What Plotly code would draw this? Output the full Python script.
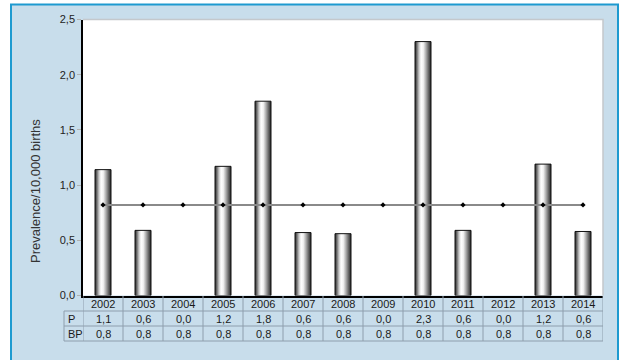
import plotly.graph_objects as go

# Yearly prevalence per 10,000 births (P) and the baseline prevalence (BP)
years = [2002, 2003, 2004, 2005, 2006, 2007, 2008, 2009, 2010, 2011, 2012, 2013, 2014]
prevalence = [1.14, 0.59, 0.0, 1.17, 1.76, 0.57, 0.56, 0.0, 2.30, 0.59, 0.0, 1.19, 0.58]
baseline = [0.82] * len(years)
row_labels = ["P", "BP"]
y_title = "Prevalence/10,000 births"

W, H = 625, 360
FONT = "Liberation Sans, Arial, sans-serif"
FRAME_BG = "#C8DDEB"
FRAME_LINE = "#1E9AD0"
GRID = "#8E9EAD"


def px_x(v):
    return v / W


def px_y(v):
    return 1 - v / H


def fmt(v):
    return f"{v:.1f}".replace(".", ",")


# plot area in pixels
PL, PR, PT, PB = 83, 603, 19.5, 295.5
ROW_TOP = [296, 311, 326]
ROW_BOT = 341
LABEL_LEFT = 64

cyl = [
    [0.0, "#2a2a2a"], [0.12, "#6e6e6e"], [0.25, "#c8c8c8"], [0.38, "#ffffff"],
    [0.52, "#f2f2f2"], [0.68, "#b0b0b0"], [0.84, "#6a6a6a"], [1.0, "#262626"],
]

fig = go.Figure()

# cylinder-shaded bars
half = 0.2
for yr, v in zip(years, prevalence):
    if v <= 0:
        continue
    fig.add_trace(go.Scatter(
        x=[yr - half, yr - half, yr + half, yr + half, yr - half],
        y=[0, v, v, 0, 0],
        mode="lines", fill="toself",
        line=dict(color="#111111", width=1),
        fillgradient=dict(type="horizontal", colorscale=cyl),
        hoverinfo="skip", showlegend=False,
    ))

# baseline line with markers
fig.add_trace(go.Scatter(
    x=years, y=baseline, mode="lines+markers",
    line=dict(color="#8a8a8a", width=2),
    marker=dict(color="#000000", size=4, symbol="diamond"),
    hoverinfo="skip", showlegend=False,
))

shapes = []
annotations = []

# white surround outside the framed panel
for x0, y0, x1, y1 in [(0, 0, 11, H), (0, 0, W, 4), (619, 0, W, H)]:
    shapes.append(dict(type="rect", xref="paper", yref="paper",
                       x0=px_x(x0), x1=px_x(x1), y0=px_y(y1), y1=px_y(y0),
                       fillcolor="white", line=dict(width=0), layer="below"))
# blue frame (open at the bottom edge of the page)
shapes.append(dict(type="path", xref="paper", yref="paper",
                   path=(f"M {px_x(11)} {px_y(H + 2)} L {px_x(11)} {px_y(4.5)} "
                         f"L {px_x(618)} {px_y(4.5)} L {px_x(618)} {px_y(H + 2)}"),
                   line=dict(color=FRAME_LINE, width=2)))
# light grey edge on top and right of plot area
shapes.append(dict(type="path", xref="paper", yref="paper",
                   path=f"M {px_x(PL)} {px_y(PT)} L {px_x(PR)} {px_y(PT)} L {px_x(PR)} {px_y(PB)}",
                   line=dict(color="#c4c8cc", width=1.5)))

# data table grid
for k in range(len(years) + 1):
    xb = years[0] - 0.5 + k
    shapes.append(dict(type="line", xref="x", yref="paper",
                       x0=xb, x1=xb, y0=px_y(ROW_BOT), y1=px_y(ROW_TOP[0]),
                       line=dict(color=GRID, width=1)))
for yy in ROW_TOP[1:] + [ROW_BOT]:
    shapes.append(dict(type="line", xref="paper", yref="paper",
                       x0=px_x(LABEL_LEFT), x1=px_x(PR), y0=px_y(yy), y1=px_y(yy),
                       line=dict(color=GRID, width=1)))
shapes.append(dict(type="line", xref="paper", yref="paper",
                   x0=px_x(LABEL_LEFT), x1=px_x(LABEL_LEFT),
                   y0=px_y(ROW_BOT), y1=px_y(ROW_TOP[1]),
                   line=dict(color=GRID, width=1)))

# table text
rows = [[str(y) for y in years], [fmt(v) for v in prevalence], [fmt(v) for v in baseline]]
for r, vals in enumerate(rows):
    yc = (ROW_TOP[r] + (ROW_TOP[r + 1] if r + 1 < len(ROW_TOP) else ROW_BOT)) / 2
    for yr, t in zip(years, vals):
        annotations.append(dict(x=yr, y=px_y(yc), xref="x", yref="paper", text=t,
                                showarrow=False, xanchor="center", yanchor="middle",
                                font=dict(family=FONT, size=11, color="#1a1a1a")))
for r, lab in enumerate(row_labels, start=1):
    yc = (ROW_TOP[r] + (ROW_TOP[r + 1] if r + 1 < len(ROW_TOP) else ROW_BOT)) / 2
    annotations.append(dict(x=px_x(LABEL_LEFT + 1.5), y=px_y(yc), xref="paper", yref="paper",
                            text=lab, showarrow=False, xanchor="left", yanchor="middle",
                            font=dict(family=FONT, size=11, color="#1a1a1a")))

# y axis title
annotations.append(dict(x=px_x(35), y=px_y(191), xref="paper", yref="paper",
                        text=y_title, textangle=-90, showarrow=False,
                        xanchor="center", yanchor="middle",
                        font=dict(family=FONT, size=13, color="#333333")))

fig.update_layout(
    width=W, height=H,
    margin=dict(l=0, r=0, t=0, b=0, pad=0, autoexpand=False),
    paper_bgcolor=FRAME_BG, plot_bgcolor="white",
    separators=",.",
    xaxis=dict(domain=[px_x(PL), px_x(PR)], range=[years[0] - 0.5, years[-1] + 0.5],
               showticklabels=False, ticks="", showgrid=False, zeroline=False,
               showline=True, linecolor="#000000", linewidth=1.5, fixedrange=True,
               automargin=False),
    yaxis=dict(domain=[px_y(PB), px_y(PT)], range=[0, 2.5], dtick=0.5, tickformat=".1f",
               ticks="outside", ticklen=4, tickcolor="#b0b0b0", showgrid=False,
               zeroline=False, showline=True, linecolor="#000000", linewidth=1.5,
               tickfont=dict(family=FONT, size=11, color="#222222"), fixedrange=True,
               automargin=False),
    shapes=shapes,
    annotations=annotations,
)

fig.write_html("out.html")
